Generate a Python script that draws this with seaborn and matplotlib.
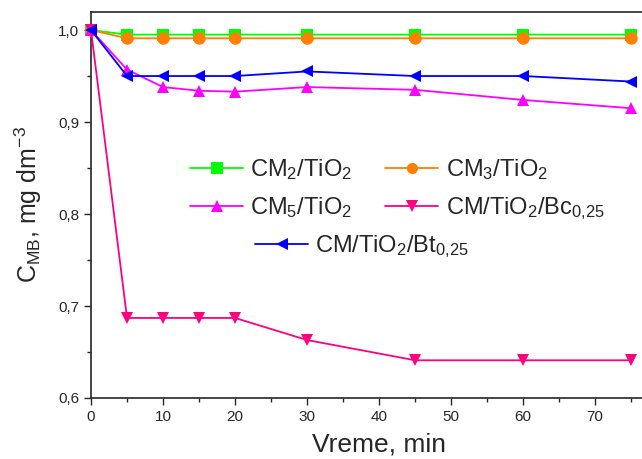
import matplotlib
matplotlib.use("Agg")
import matplotlib.pyplot as plt
from matplotlib.ticker import MultipleLocator, FuncFormatter
import seaborn as sns
import pandas as pd

# vreme (min)
vreme = [0, 5, 10, 15, 20, 30, 45, 60, 75]

# C_MB, mg dm^-3
cm2_tio2 = [1.0, 0.995, 0.995, 0.995, 0.995, 0.995, 0.995, 0.995, 0.995]
cm3_tio2 = [1.0, 0.991, 0.991, 0.991, 0.991, 0.991, 0.991, 0.991, 0.991]
cm5_tio2 = [1.0, 0.957, 0.938, 0.934, 0.933, 0.938, 0.935, 0.924, 0.915]
cm_bc = [1.0, 0.687, 0.687, 0.687, 0.687, 0.663, 0.641, 0.641, 0.641]
cm_bt = [1.0, 0.950, 0.950, 0.950, 0.950, 0.955, 0.950, 0.950, 0.944]

labels = [r'CM$_2$/TiO$_2$', r'CM$_3$/TiO$_2$', r'CM$_5$/TiO$_2$',
          r'CM/TiO$_2$/Bc$_{0{,}25}$', r'CM/TiO$_2$/Bt$_{0{,}25}$']
colors = ['#00FF00', '#FF8000', '#FF00FF', '#FF0080', '#0000FF']
markers = ['s', 'o', '^', 'v', '<']

series = [cm2_tio2, cm3_tio2, cm5_tio2, cm_bc, cm_bt]
df = pd.concat([pd.DataFrame({'t': vreme, 'c': s, 'uzorak': lab})
                for s, lab in zip(series, labels)])

sns.set_style("ticks")
plt.rcParams['font.family'] = ['Liberation Sans', 'DejaVu Sans']
plt.rcParams['mathtext.default'] = 'regular'

fig = plt.figure(figsize=(6.42, 4.59), dpi=100)
ax = fig.add_axes([91 / 642, 61 / 459, 551 / 642, 386 / 459])

sns.lineplot(data=df, x='t', y='c', hue='uzorak', style='uzorak',
             hue_order=labels, style_order=labels,
             palette=dict(zip(labels, colors)),
             markers=dict(zip(labels, markers)),
             dashes=False, markersize=9, linewidth=1.3,
             markeredgewidth=0, ax=ax, legend=True, clip_on=False, zorder=3)

handles, labs = ax.get_legend_handles_labels()
ax.get_legend().remove()
for h in handles:
    h.set_markersize(8)

# legenda popunjava po kolonama -> redosled da bi redovi bili kao na originalu
order = [0, 2, 1, 3]
leg1 = ax.legend([handles[i] for i in order], [labs[i] for i in order],
                 ncol=2, frameon=False,
                 loc='upper left', bbox_to_anchor=((190 - 91) / 551, (398 - 157) / 386),
                 borderpad=0, borderaxespad=0, fontsize=17,
                 handlelength=2.25, handletextpad=0.3, columnspacing=1.4,
                 labelspacing=0.55)
ax.add_artist(leg1)
ax.legend(handles[4:], labs[4:], frameon=False,
          loc='upper left', bbox_to_anchor=((255 - 91) / 551, (398 - 233) / 386),
          borderpad=0, borderaxespad=0, fontsize=17,
          handlelength=2.25, handletextpad=0.3)

ax.set_xlim(0, 76.5)
ax.set_ylim(0.6, 1.0196)
ax.xaxis.set_major_locator(MultipleLocator(10))
ax.xaxis.set_minor_locator(MultipleLocator(5))
ax.yaxis.set_major_locator(MultipleLocator(0.1))
ax.yaxis.set_minor_locator(MultipleLocator(0.05))
ax.yaxis.set_major_formatter(FuncFormatter(lambda v, p: f"{v:.1f}".replace('.', ',')))
ax.tick_params(which='major', direction='out', length=5, width=1, labelsize=11)
ax.tick_params(which='minor', direction='out', length=3, width=1)

ax.spines['right'].set_visible(False)
for s in ['left', 'top', 'bottom']:
    ax.spines[s].set_linewidth(1.2)

ax.set_xlabel('Vreme, min', fontsize=19)
ax.xaxis.set_label_coords((379 - 91) / 551, -0.09)
ax.set_ylabel(r'C$_{MB}$, mg dm$^{-3}$', fontsize=18, labelpad=10)

fig.savefig('out.png', dpi=100)
